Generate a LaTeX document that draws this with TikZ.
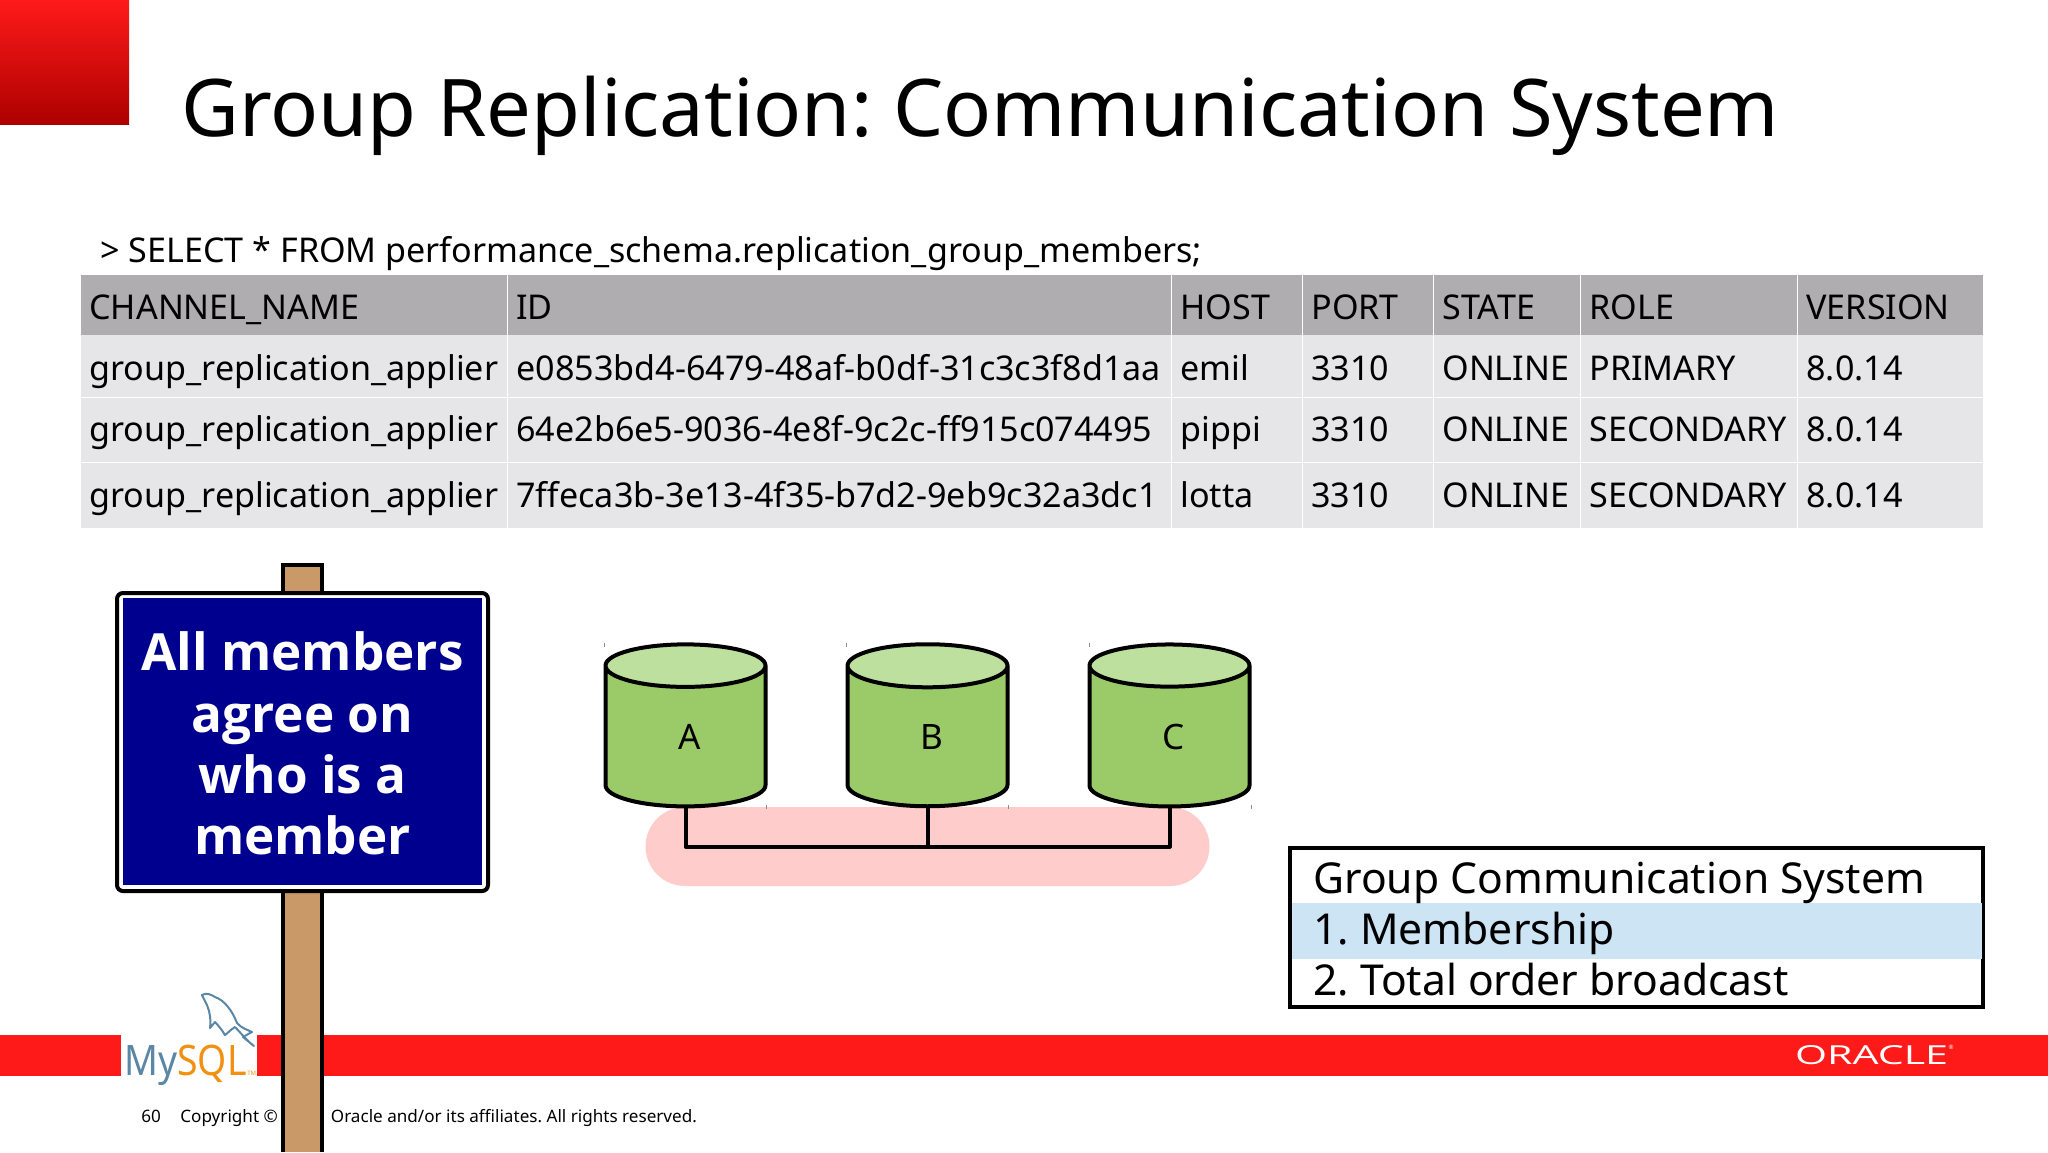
\documentclass[tikz,border=0pt]{standalone}
\usepackage{fontspec}
\setmainfont{Noto Sans}
\newfontfamily\signfont{Open Sans}
\frenchspacing
\usepackage{tikz}
\usetikzlibrary{shapes.geometric}
\definecolor{stripred}{HTML}{FF1A1A}
\definecolor{headgray}{HTML}{AFADB0}
\definecolor{rowgray}{HTML}{E6E5E8}
\definecolor{signblue}{HTML}{00008F}
\definecolor{postbrown}{HTML}{C99A68}
\definecolor{dbbody}{HTML}{9BCB69}
\definecolor{dbtop}{HTML}{BEE09E}
\definecolor{busred}{HTML}{FFCCCC}
\definecolor{rowblue}{HTML}{CDE4F5}
\definecolor{logoblue}{HTML}{5B87A6}
\definecolor{logoorange}{HTML}{F29111}
\tikzstyle{celltext}=[anchor=base west,inner sep=0pt,font=\fontsize{17.05}{20}\selectfont]
\tikzstyle{gcstext}=[anchor=base west,inner sep=0pt,font=\fontsize{21.3}{24}\selectfont]
\tikzstyle{foottext}=[anchor=base west,inner sep=0pt,font=\fontsize{8.55}{10}\selectfont]
\tikzstyle{dbnode}=[draw,line width=2pt,shape=cylinder,shape border rotate=90,aspect=1.4,%
                    cylinder uses custom fill,cylinder body fill=dbbody,cylinder end fill=dbtop,%
                    minimum width=80pt,minimum height=81pt,inner sep=0pt,%
                    font=\fontsize{17.5}{18}\selectfont]
\tikzstyle{ticktop}=[draw=black!45,line width=0.4pt]
\begin{document}
\begin{tikzpicture}[x=0.5pt,y=-0.5pt]
            \useasboundingbox (0,0) rectangle (2048,1152);
            % corner and title
            \shade[top color=stripred,bottom color=red!68!black] (0,0) rectangle (129,124);
            \node[anchor=base west,inner sep=0pt,font=\fontsize{39.77}{44}\selectfont] (title) at (181,136) {Group Replication: Communication System};
            \node[celltext] (query) at (100,262) {> SELECT * FROM performance\_schema.replication\_group\_members;};
            % table
            \fill[headgray] (81,275) rectangle (1983,335);
            \fill[rowgray] (81,335) rectangle (1983,528);
            \draw[white,line width=0.5pt] (81,397) -- (1983,397) (81,462) -- (1983,462);
            \foreach \colx in {507,1171,1302,1433,1580,1797}
                \draw[white,line width=0.5pt] (\colx,275) -- (\colx,528);
            \node[celltext] (h1) at (89,319) {CHANNEL\_NAME};
            \node[celltext] (h2) at (516,319) {ID};
            \node[celltext] (h3) at (1180,319) {HOST};
            \node[celltext] (h4) at (1311,319) {PORT};
            \node[celltext] (h5) at (1442,319) {STATE};
            \node[celltext] (h6) at (1589,319) {ROLE};
            \node[celltext] (h7) at (1806,319) {VERSION};
            \node[celltext] (a1) at (89,380) {group\_replication\_applier};
            \node[celltext] (a2) at (516,380) {e0853bd4-6479-48af-b0df-31c3c3f8d1aa};
            \node[celltext] (a3) at (1180,380) {emil};
            \node[celltext] (a4) at (1311,380) {3310};
            \node[celltext] (a5) at (1442,380) {ONLINE};
            \node[celltext] (a6) at (1589,380) {PRIMARY};
            \node[celltext] (a7) at (1806,380) {8.0.14};
            \node[celltext] (b1) at (89,441) {group\_replication\_applier};
            \node[celltext] (b2) at (516,441) {64e2b6e5-9036-4e8f-9c2c-ff915c074495};
            \node[celltext] (b3) at (1180,441) {pippi};
            \node[celltext] (b4) at (1311,441) {3310};
            \node[celltext] (b5) at (1442,441) {ONLINE};
            \node[celltext] (b6) at (1589,441) {SECONDARY};
            \node[celltext] (b7) at (1806,441) {8.0.14};
            \node[celltext] (c1) at (89,507) {group\_replication\_applier};
            \node[celltext] (c2) at (516,507) {7ffeca3b-3e13-4f35-b7d2-9eb9c32a3dc1};
            \node[celltext] (c3) at (1180,507) {lotta};
            \node[celltext] (c4) at (1311,507) {3310};
            \node[celltext] (c5) at (1442,507) {ONLINE};
            \node[celltext] (c6) at (1589,507) {SECONDARY};
            \node[celltext] (c7) at (1806,507) {8.0.14};
            % footer
            \fill[stripred] (0,1035) rectangle (2048,1076);
            \fill[white] (121,1035) rectangle (257,1076);
            \node[anchor=base west,inner sep=0pt,font=\fontsize{21}{24}\selectfont] (mysql) at (124,1075) {\scalebox{0.89}[1]{\textcolor{logoblue}{My}\textcolor{logoorange}{SQL}}};
            \node[anchor=base west,inner sep=0pt,font=\fontsize{3}{4}\selectfont,text=logoorange] (tm) at (247,1075) {TM};
            \draw[logoblue,line width=1pt,line join=round] (202,995) .. controls (206,992) and (212,995) .. (215,997)
                .. controls (224,1000) and (232,1010) .. (237,1023) .. controls (241,1028) and (248,1030) .. (252,1032)
                .. controls (248,1034) and (245,1036) .. (243,1037) -- (254,1046) .. controls (248,1042) and (240,1032) .. (235,1027)
                .. controls (230,1030) and (228,1033) .. (225,1035) .. controls (222,1030) and (218,1025) .. (215,1022)
                -- (210,1028) .. controls (211,1020) and (210,1012) .. (207,1005) -- cycle;
            \node[foottext] (page) at (141,1122) {60};
            \node[foottext] (copy) at (180,1122) {Copyright ©};
            \node[foottext] (rights) at (330.5,1122) {Oracle and/or its affiliates. All rights reserved.};
            \node[inner sep=0pt,text=white,font=\signfont] (oracle) at (1871.5,1055) {\resizebox{76.5pt}{9.5pt}{ORACLE}};
            \node[inner sep=0pt,text=white,font=\fontsize{3}{4}\selectfont] (oraclemark) at (1951,1047) {®};
            % signpost
            \draw[fill=postbrown,line width=2pt] (283,1152) -- (283,565) -- (322,565) -- (322,1152);
            \node[draw,fill=white,line width=2pt,rounded corners=3pt,minimum width=185.5pt,minimum height=149pt,inner sep=0pt] (signframe) at (302.5,742) {};
            \node[fill=signblue,minimum width=179.5pt,minimum height=143.5pt,inner sep=0pt] (sign) at (302.5,741.5) {};
            \node[text=white,inner sep=0pt,align=center,font=\signfont\fontsize{25.6}{30.7}\selectfont\bfseries] (signtext) at (302.5,743.5) {All members\\agree on\\who is a\\member};
            % database group
            \node[draw=none,fill=busred,rounded corners=19.75pt,minimum width=282pt,minimum height=39.5pt,inner sep=0pt] (bus) at (927.5,846.5) {};
            \node[dbnode] (dba) at (685.5,737) {\hspace*{4pt}A};
            \node[dbnode] (dbb) at (927.5,737) {\hspace*{4pt}B};
            \node[dbnode] (dbc) at (1169.5,737) {\hspace*{4pt}C};
            \coordinate (busb) at (dbb.south |- bus.center);
            \draw[line width=2pt,line join=round] (dba.south) |- (dbc.south |- busb) -- (dbc.south);
            \draw[line width=2pt] (dbb.south) -- (busb);
            \foreach \tickx in {604.5,846.5,1089} {
                \draw[ticktop] (\tickx,643) -- (\tickx,647);
                \draw[ticktop] (\tickx+162,805) -- (\tickx+162,809);
            }
            % group communication box
            \node[draw,line width=2pt,minimum width=346.5pt,minimum height=79.5pt,inner sep=0pt] (gcs) at (1636.5,927) {};
            \fill[rowblue] (1292,903) rectangle (1982,959);
            \node[gcstext] (gcs1) at (1313,893) {Group Communication System};
            \node[gcstext] (gcs2) at (1313,944) {1. Membership};
            \node[gcstext] (gcs3) at (1313,995) {2. Total order broadcast};
  \end{tikzpicture}
\end{document}
